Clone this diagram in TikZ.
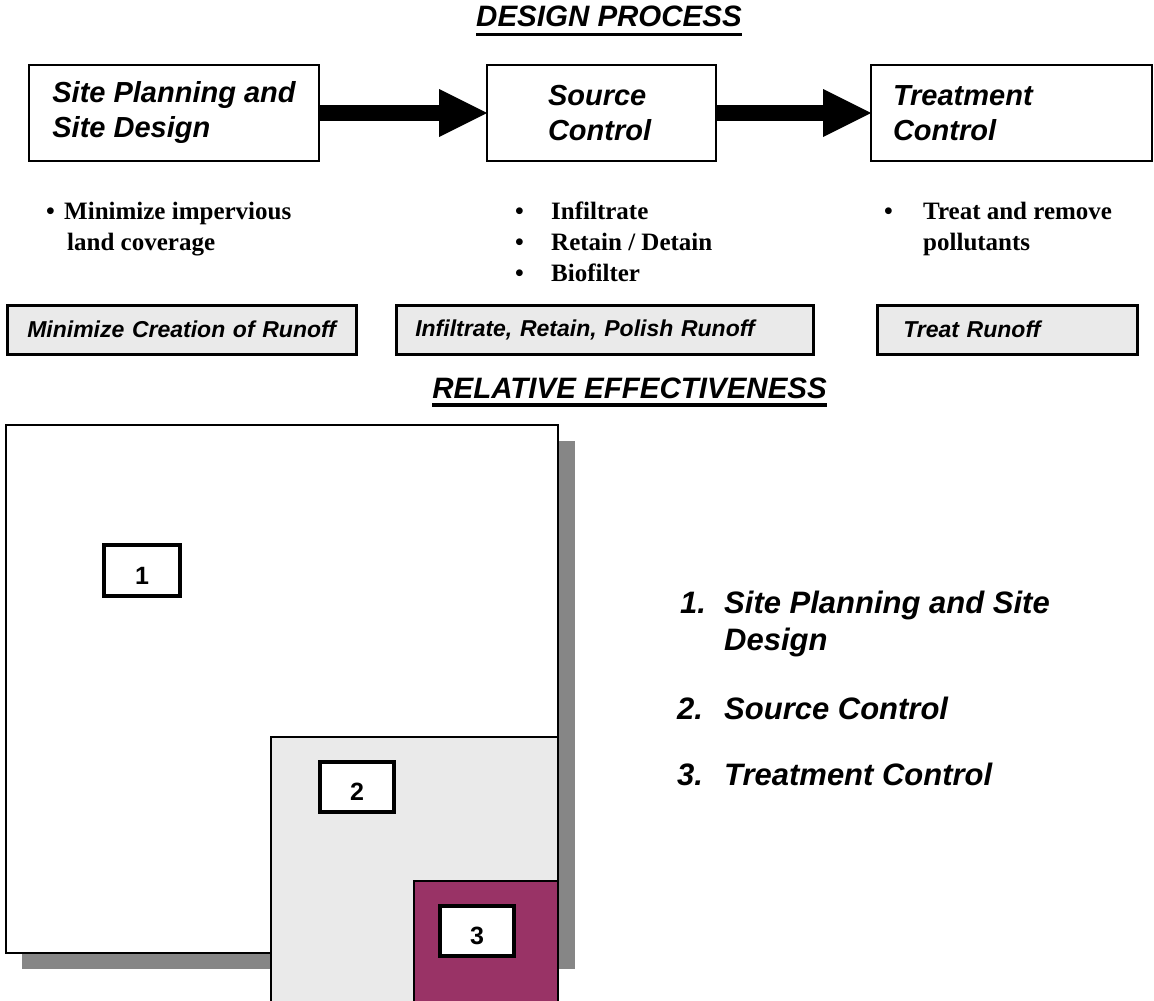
\documentclass[tikz,border=0pt]{standalone}
\usepackage{fontspec}
\setmainfont{Liberation Serif}
\setsansfont{Liberation Sans}
\usetikzlibrary{arrows.meta}

\definecolor{plum}{RGB}{153,51,102}
\definecolor{palegray}{RGB}{234,234,234}
\definecolor{shadowgray}{RGB}{134,134,134}

\tikzset{
  heading/.style={anchor=base, inner sep=0pt, font=\sffamily\bfseries\itshape\fontsize{29.5}{35}\selectfont},
  procbox/.style={draw, line width=2pt, anchor=north west, minimum height=96pt, inner ysep=0pt,
    outer sep=0pt, align=left, font=\sffamily\bfseries\itshape\fontsize{29}{35}\selectfont},
  bullettext/.style={anchor=base west, inner sep=0pt, font=\rmfamily\bfseries\fontsize{25}{30}\selectfont},
  goalbox/.style={draw, line width=2.5pt, fill=palegray, anchor=north west, minimum height=49pt,
    inner ysep=0pt, align=left, font=\sffamily\bfseries\itshape\fontsize{23}{27}\selectfont},
  numbox/.style={draw, line width=4pt, fill=white, anchor=north west, inner sep=0pt,
    text height=27pt, text depth=0pt, font=\sffamily\bfseries\fontsize{25}{29}\selectfont},
  listtext/.style={anchor=base west, inner sep=0pt, font=\sffamily\bfseries\itshape\fontsize{31}{37}\selectfont},
  bigarrow/.style={line width=16pt, -{Triangle[length=48pt 0 0, width=48pt 0 0, line width=0pt 0 0]}}
}

\begin{document}
\begin{tikzpicture}[x=1pt,y=-1pt]
   \useasboundingbox (0,0) rectangle (1154,1001);

   % design process
   \node[heading] (design) at (609,27) {DESIGN PROCESS};
   \draw[line width=3pt] ([yshift=-7pt]design.base west) -- ([yshift=-7pt]design.base east);

   \node[procbox, minimum width=290pt, inner xsep=0pt] (plan) at (29,65) {Site Planning and\\Site Design};
   \node[procbox, text width=107pt, inner xsep=61pt] (source) at (487,65) {Source\\Control};
   \node[procbox, text width=237pt, inner xsep=22pt] (treat) at (871,65) {Treatment\\Control};

   \draw[bigarrow] (plan) -- (source);
   \draw[bigarrow] (source) -- (treat);

   % bullets
   \node[bullettext] (dotA) at (46,219) {\textbullet};
   \node[bullettext] (minA) at (64,219) {Minimize impervious};
   \node[bullettext] (minB) at (67,250) {land coverage};

   \node[bullettext] (dotB) at (515,219) {\textbullet};
   \node[bullettext] (infB) at (551,219) {Infiltrate};
   \node[bullettext] (dotC) at (515,250) {\textbullet};
   \node[bullettext] (retB) at (551,250) {Retain / Detain};
   \node[bullettext] (dotD) at (515,281) {\textbullet};
   \node[bullettext] (bioB) at (551,281) {Biofilter};

   \node[bullettext] (dotE) at (884,219) {\textbullet};
   \node[bullettext] (treA) at (923,219) {Treat and remove};
   \node[bullettext] (treB) at (923,250) {pollutants};

   % goals
   \node[goalbox, text width=309pt, inner xsep=20pt] (goalA) at (6,304) {Minimize Creation of Runoff};
   \node[goalbox, text width=379pt, inner xsep=19pt] (goalB) at (395,304) {Infiltrate, Retain, Polish Runoff};
   \node[goalbox, text width=208pt, inner xsep=26pt] (goalC) at (876,304) {Treat Runoff};

   % relative effectiveness
   \node[heading, anchor=base east] (relative) at (827,398) {RELATIVE EFFECTIVENESS};
   \draw[line width=3.5pt] ([yshift=-7pt]relative.base west) -- ([yshift=-7pt]relative.base east);

   \fill[shadowgray] (22,441) rectangle (575,969);
   \draw[line width=2pt, fill=white] (6,425) rectangle (558,953);
   \draw[line width=1.5pt, fill=palegray] (271,737) rectangle (558,1012);
   \draw[line width=1.5pt, fill=plum] (414,881) rectangle (558,1012);

   \node[numbox, minimum width=76pt, minimum height=51pt] (one) at (102,543) {1};
   \node[numbox, minimum width=74pt, minimum height=50pt] (two) at (318,760) {2};
   \node[numbox, minimum width=74pt, minimum height=50pt] (three) at (438,904) {3};

   % legend
   \node[listtext] (numA) at (680,613) {1.};
   \node[listtext] (itemA) at (724,613) {Site Planning and Site};
   \node[listtext] (itemAA) at (724,650) {Design};
   \node[listtext] (numB) at (677,719) {2.};
   \node[listtext] (itemB) at (724,719) {Source Control};
   \node[listtext] (numC) at (677,785) {3.};
   \node[listtext] (itemC) at (724,785) {Treatment Control};

\end{tikzpicture}
\end{document}
